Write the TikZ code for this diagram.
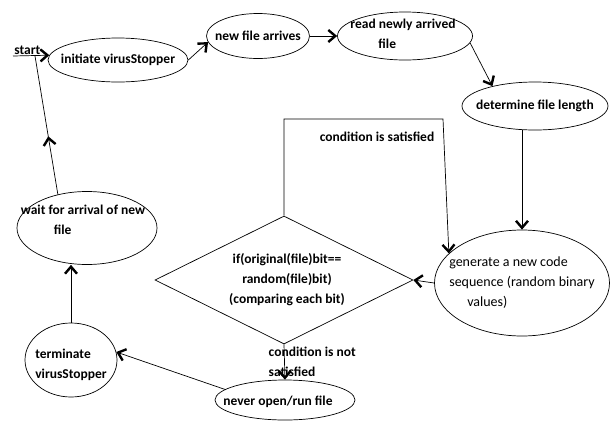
\documentclass[tikz,border=0pt]{standalone}
\usepackage{fontspec}
\setmainfont{Carlito}
\usetikzlibrary{arrows.meta,positioning,shapes.geometric,decorations.markings}

\begin{document}
\begin{tikzpicture}[x=1pt,y=-1pt,line width=0.7pt,
  every node/.style={font=\fontsize{13.5}{20}\selectfont\bfseries},
  stateshape/.style={draw,ellipse,inner sep=0pt},
  arr/.style={-{Straight Barb[length=7pt,width=12pt,line width=2.4pt]}},
  midarr/.style={decoration={markings,mark=at position 0.42 with {\arrow{Straight Barb[length=7pt,width=12pt,line width=2.4pt]}}},postaction=decorate}]
\useasboundingbox (0,0) rectangle (611,421);
% states
\node[stateshape,minimum width=140,minimum height=44] (init) at (118,60) {};
\node[stateshape,minimum width=103,minimum height=45] (newf) at (258,36) {};
\node[stateshape,minimum width=135,minimum height=48] (read) at (405,36) {};
\node[stateshape,minimum width=146,minimum height=48] (detl) at (535,106) {};
\node[stateshape,minimum width=175,minimum height=106] (gen) at (522,283) {};
\node[draw,diamond,inner sep=0pt,minimum width=258,minimum height=128] (cmp) at (284,280) {};
\node[stateshape,minimum width=140,minimum height=40] (never) at (285,400) {};
\node[stateshape,minimum width=92,minimum height=74] (term) at (71,360) {};
\node[stateshape,minimum width=140,minimum height=73] (wait) at (87,228) {};
% texts
\node (initt) at (init) {initiate virusStopper};
\node (newft) at (newf) {new file arrives};
\node[align=left] (readt) at ([xshift=-2,yshift=2]read) {read newly arrived\\\hspace*{28pt}file};
\node (detlt) at (detl) {determine file length};
\node[align=left,font=\fontsize{14}{20}\selectfont] (gent) at (gen) {generate a new code\\sequence (random binary\\\hspace*{18pt}values)};
\node[align=center] (cmpt) at ([xshift=3]cmp) {if(original(file)bit==\\random(file)bit)\\(comparing each bit)};
\node (nevert) at ([xshift=-7,yshift=-2]never) {never open/run file};
\node[align=left] (termt) at ([yshift=-5]term) {terminate\\virusStopper};
\node[align=left] (waitt) at ([xshift=-4,yshift=8]wait) {wait for arrival of new\\\hspace*{33pt}file};
% start
\coordinate (st) at (13,56);
\coordinate (jn) at (35,56);
\node[anchor=south west,inner sep=1pt] (stl) at (st) {start};
\draw[arr] (st) -- (init.176);
\draw[arr] (init.east) -- (newf.187);
\draw[arr] (newf.east) -- (read.west);
\draw[arr] (read.-6) -- (detl.155);
\draw[arr] (gen.north |- detl.south) -- (gen.north);
\draw[arr] (gen.west) -- (cmp.east);
% condition is satisfied
\coordinate (sat) at (443,119);
\draw[arr] (cmp.north) |- (sat) -- (gen.158);
\node (satt) at (377,137) {condition is satisfied};
% condition is not satisfied
\draw[arr] (cmp.south) -- (never.north);
\node[align=left,anchor=west] (nsatt) at (265,362) {condition is not\\satisfied};
\draw[arr] (never.170) -- (term.10);
\draw[arr] (term.north) -- (term.north |- wait.south);
\draw[midarr] (wait.131) -- (jn);
\end{tikzpicture}
\end{document}
